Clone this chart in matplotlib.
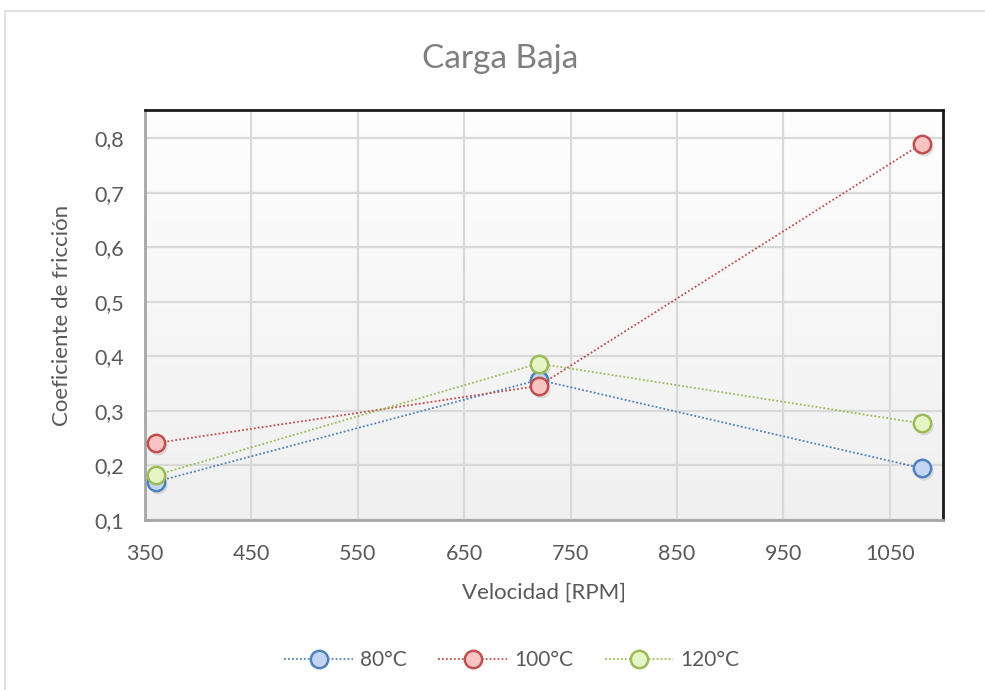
import numpy as np
import matplotlib
matplotlib.use("Agg")
import matplotlib.pyplot as plt
import matplotlib.ticker as mticker
from matplotlib.patches import Rectangle
from matplotlib.transforms import ScaledTranslation

# ── Data ────────────────────────────────────────────────────────────────────
rpm = [360, 720, 1080]
mu_80 = [0.170, 0.357, 0.195]
mu_100 = [0.241, 0.346, 0.790]
mu_120 = [0.182, 0.387, 0.277]
labels = ["80°C", "100°C", "120°C"]

x_ticks = [350, 450, 550, 650, 750, 850, 950, 1050]
y_ticks = [0.1, 0.2, 0.3, 0.4, 0.5, 0.6, 0.7, 0.8]

# (line/edge, face)
colors = [("#4f81bd", "#c3d5f4"), ("#c0504d", "#f8c4c3"), ("#9bbb59", "#e6f5c4")]

plt.rcParams["font.family"] = ["Lato", "DejaVu Sans"]
TXT = "#595959"

fig = plt.figure(figsize=(9.85, 6.9), dpi=100)
fig.patches.append(Rectangle((5 / 985, -0.1), 1.1, (679 + 69) / 690,
                             transform=fig.transFigure, fill=False,
                             edgecolor="#d9d9d9", linewidth=1.2))

ax = fig.add_axes([145 / 985, 170 / 690, 798 / 985, 410 / 690])

# light gradient background
grad = np.linspace(0.94, 0.995, 256).reshape(-1, 1)
ax.imshow(np.dstack([grad, grad, grad]), extent=[0, 1, 0, 1], origin="lower",
          transform=ax.transAxes, aspect="auto", zorder=0)

ax.set_xlim(350, 1100)
ax.set_ylim(0.1, 0.852)
ax.set_xticks(x_ticks)
ax.set_yticks(y_ticks)
ax.yaxis.set_major_formatter(mticker.FuncFormatter(lambda v, p: f"{v:.1f}".replace(".", ",")))
ax.grid(True, color="#d9d9d9", linewidth=1.6, zorder=1)
ax.tick_params(length=0, labelsize=15.5, labelcolor=TXT)
ax.tick_params(axis="x", pad=17)
ax.tick_params(axis="y", pad=15)

for s in ["top", "right"]:
    ax.spines[s].set_color("#1a1a1a")
    ax.spines[s].set_linewidth(2)
for s in ["left", "bottom"]:
    ax.spines[s].set_color("#a6a6a6")
    ax.spines[s].set_linewidth(2)

shadow = ax.transData + ScaledTranslation(2 / 100, -3 / 100, fig.dpi_scale_trans)
for ys, lab, (ec, fc) in zip([mu_80, mu_100, mu_120], labels, colors):
    ax.plot(rpm, ys, linestyle="none", marker="o", markersize=13,
            markerfacecolor="#c8c8c8", markeredgecolor="none", alpha=0.55,
            transform=shadow, zorder=2)
    ax.plot(rpm, ys, linestyle=(0, (1, 1.2)), linewidth=1.3, color=ec,
            marker="o", markersize=12.5, markerfacecolor=fc, markeredgecolor=ec,
            markeredgewidth=1.8, label=lab, zorder=3)

fig.text(500 / 985, 1 - 59 / 690, "Carga Baja", ha="center", va="center",
         fontsize=24, color="#7f7f7f")
ax.set_xlabel("Velocidad [RPM]", fontsize=16, color=TXT, labelpad=14)
ax.set_ylabel("Coeficiente de fricción", fontsize=16, color=TXT, labelpad=16)

leg = fig.legend(loc="center", bbox_to_anchor=(512 / 985, 1 - 660 / 690), ncol=3,
                 frameon=False, fontsize=15, handlelength=3.3, columnspacing=1.5,
                 handletextpad=0.35)
for t in leg.get_texts():
    t.set_color(TXT)

fig.savefig("out.png", dpi=100)
